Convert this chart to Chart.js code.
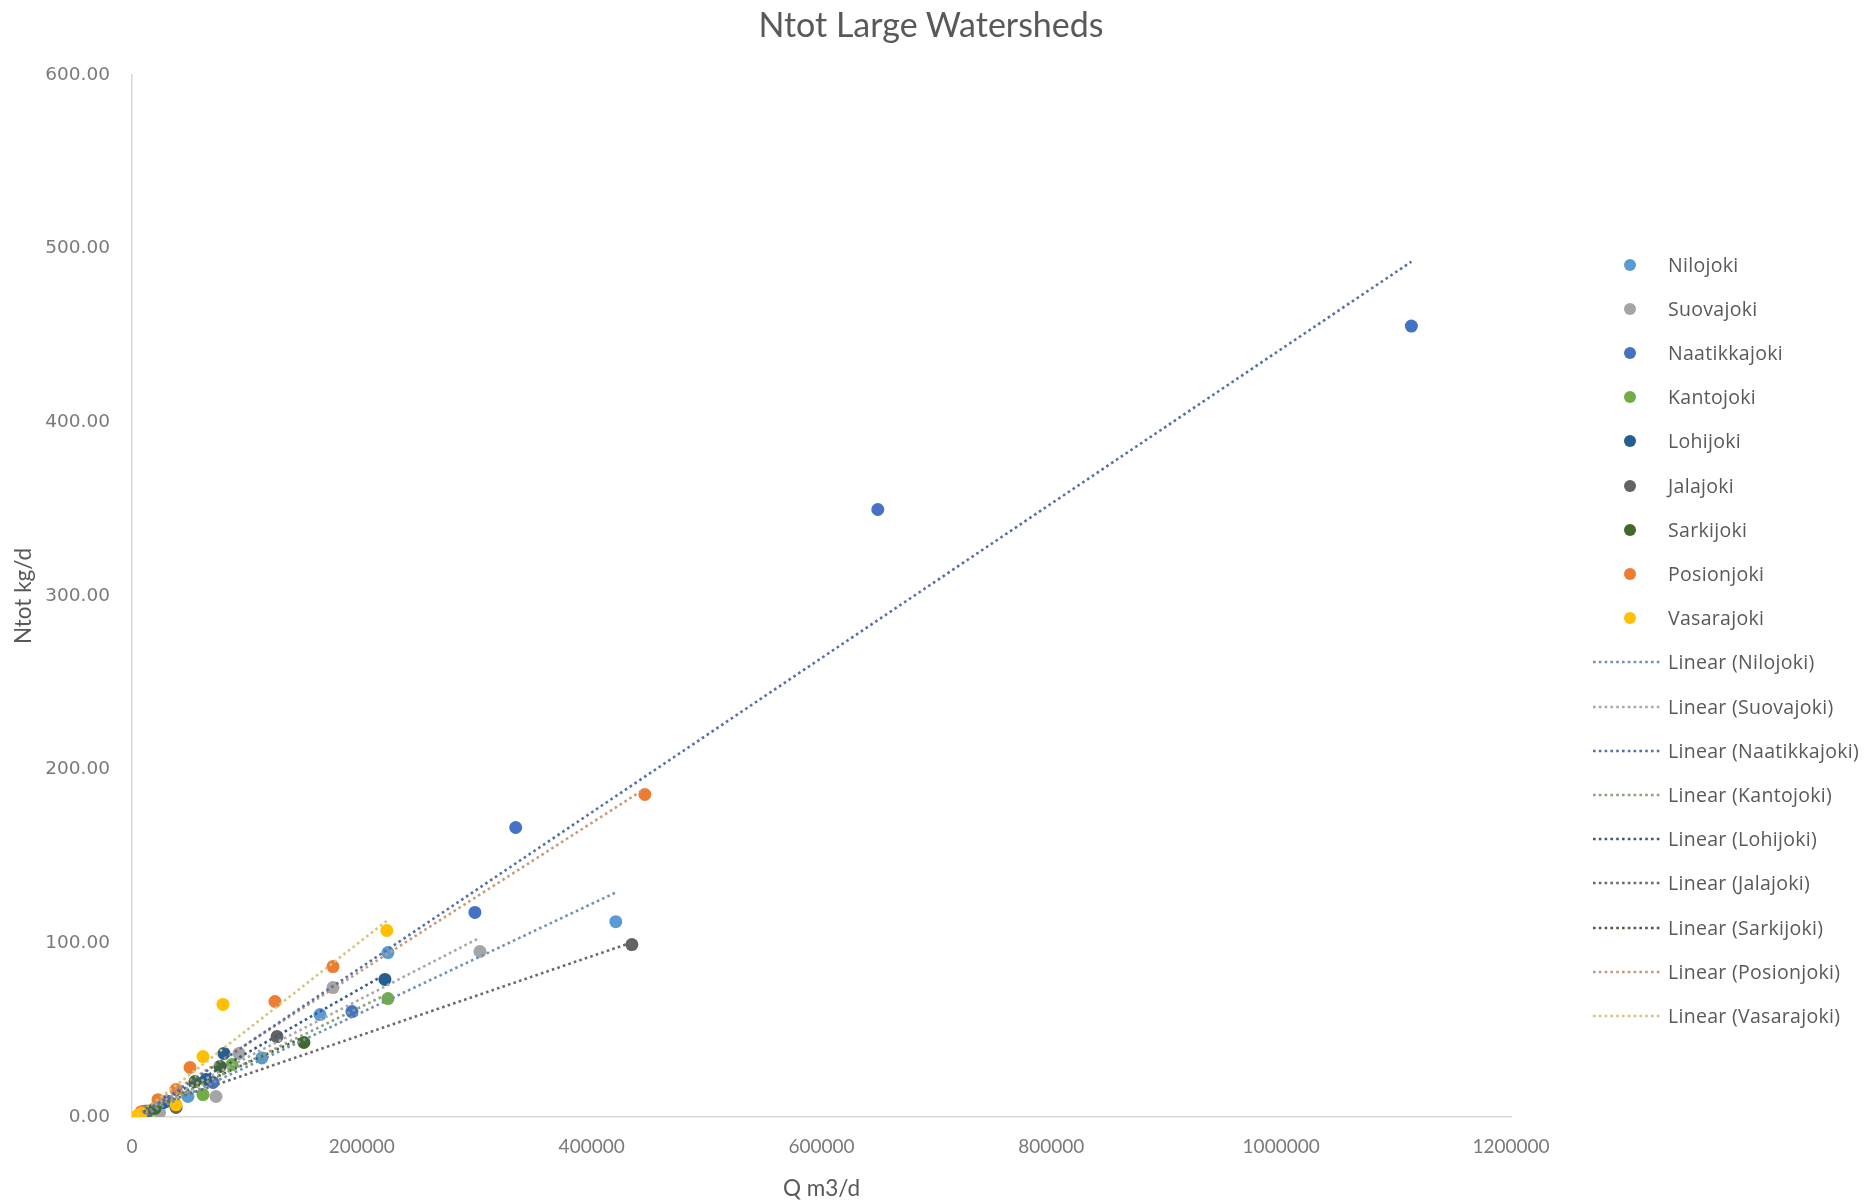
<!DOCTYPE html>
<html>
<head>
<meta charset="utf-8">
<script src="https://cdn.jsdelivr.net/npm/chart.js@4.4.1/dist/chart.umd.min.js"></script>
<style>
  html, body { margin: 0; padding: 0; background: #ffffff; }
  #wrap { position: relative; width: 1868px; height: 1202px; }
  #c { position: absolute; left: 0; top: 0; }
  #legend { position: absolute; left: 0; top: 0; width: 1868px; height: 1202px; pointer-events: none; }
  #title { position: absolute; left: 731px; width: 400px; top: 4px; height: 40px; line-height: 40px; text-align: center;
           font-family: Lato, sans-serif; font-size: 34px; color: #595959; white-space: nowrap; }
  .li { position: absolute; height: 26px; font-family: "Open Sans", sans-serif; font-size: 19.5px; letter-spacing: 0.3px; color: #595959; line-height: 26px; white-space: nowrap; }
</style>
</head>
<body>
<div id="wrap">
  <canvas id="c" width="1868" height="1202"></canvas>
  <div id="title">Ntot Large Watersheds</div>
  <div id="legend"></div>
</div>
<script>
// ---- Data ----
const seriesNames = ["Nilojoki", "Suovajoki", "Naatikkajoki", "Kantojoki", "Lohijoki", "Jalajoki", "Sarkijoki", "Posionjoki", "Vasarajoki"];

const nilojokiQ = [421000, 222700, 163600, 113000, 48700, 27000, 12000];
const nilojokiN = [112.5, 94.7, 59.0, 34.0, 11.8, 8.3, 3.5];

const suovajokiQ = [302800, 174900, 93100, 73100, 24000];
const suovajokiN = [95.3, 74.5, 36.6, 11.8, 2.6];

const naatikkajokiQ = [1113300, 649000, 333900, 298400, 191400, 70500, 30000, 10000];
const naatikkajokiN = [455.4, 349.8, 166.7, 117.8, 60.7, 19.9, 9.0, 3.0];

const kantojokiQ = [222700, 87000, 61800, 15000];
const kantojokiN = [68.2, 30.2, 12.9, 3.5];

const lohijokiQ = [220100, 80000, 64400, 27000, 10000];
const lohijokiN = [79.2, 36.6, 21.6, 8.3, 2.5];

const jalajokiQ = [435000, 126200, 38300, 12000];
const jalajokiN = [99.3, 46.3, 5.5, 2.0];

const sarkijokiQ = [149600, 76600, 54800, 20000];
const sarkijokiN = [42.9, 29.1, 20.4, 5.0];

const posionjokiQ = [446300, 174900, 124400, 50500, 38300, 22600, 8000];
const posionjokiN = [185.7, 86.6, 66.5, 28.5, 15.8, 10.0, 3.0];

const vasarajokiQ = [221800, 79200, 61800, 38300, 8000, 5000];
const vasarajokiN = [107.4, 64.8, 34.8, 7.0, 2.0, 1.0];

// Linear trendline end points (as drawn in the reference)
const nilojokiTrendQ = [12000, 421000],     nilojokiTrendN = [1.5, 129.3];
const suovajokiTrendQ = [20000, 302800],    suovajokiTrendN = [7.0, 103.3];
const naatikkajokiTrendQ = [10000, 1113300], naatikkajokiTrendN = [2.0, 492.5];
const kantojokiTrendQ = [15000, 222700],    kantojokiTrendN = [4.0, 71.0];
const lohijokiTrendQ = [10000, 220100],     lohijokiTrendN = [3.0, 82.0];
const jalajokiTrendQ = [12000, 435000],     jalajokiTrendN = [4.7, 100.5];
const sarkijokiTrendQ = [20000, 149600],    sarkijokiTrendN = [7.0, 46.0];
const posionjokiTrendQ = [8000, 446300],    posionjokiTrendN = [3.0, 189.0];
const vasarajokiTrendQ = [5000, 221800],    vasarajokiTrendN = [1.0, 113.0];

const xTicks = [0, 200000, 400000, 600000, 800000, 1000000, 1200000];
const yTicks = [0, 100, 200, 300, 400, 500, 600];

// ---- Styles ----
const colors = ["#5B9BD5", "#A5A5A5", "#4472C4", "#70AD47", "#255E91", "#636363", "#43682B", "#ED7D31", "#FFC000"];
const trendColors = ["#6f93b8", "#a8a8a8", "#5470a8", "#8aa477", "#3d5a7d", "#6a6a6a", "#4d5e45", "#c99a7a", "#d9c27a"];

const pointSets = [
  [nilojokiQ, nilojokiN], [suovajokiQ, suovajokiN], [naatikkajokiQ, naatikkajokiN],
  [kantojokiQ, kantojokiN], [lohijokiQ, lohijokiN], [jalajokiQ, jalajokiN],
  [sarkijokiQ, sarkijokiN], [posionjokiQ, posionjokiN], [vasarajokiQ, vasarajokiN]
];
const trendSets = [
  [nilojokiTrendQ, nilojokiTrendN], [suovajokiTrendQ, suovajokiTrendN], [naatikkajokiTrendQ, naatikkajokiTrendN],
  [kantojokiTrendQ, kantojokiTrendN], [lohijokiTrendQ, lohijokiTrendN], [jalajokiTrendQ, jalajokiTrendN],
  [sarkijokiTrendQ, sarkijokiTrendN], [posionjokiTrendQ, posionjokiTrendN], [vasarajokiTrendQ, vasarajokiTrendN]
];

const toPts = (qs, ns) => qs.map((q, i) => ({ x: q, y: ns[i] }));

const datasets = [];
pointSets.forEach((s, i) => {
  datasets.push({
    type: 'scatter',
    label: seriesNames[i],
    data: toPts(s[0], s[1]),
    backgroundColor: colors[i],
    borderColor: colors[i],
    pointRadius: 6.5,
    pointBorderWidth: 0,
    order: 20 - i
  });
});
trendSets.forEach((s, i) => {
  datasets.push({
    type: 'scatter',
    label: 'Linear (' + seriesNames[i] + ')',
    data: toPts(s[0], s[1]),
    showLine: true,
    borderColor: trendColors[i],
    borderWidth: 2.6,
    borderDash: [2.6, 3.2],
    pointRadius: 0,
    order: 1
  });
});

const grey = '#595959';
const tickGrey = '#7a7a7a';

new Chart(document.getElementById('c'), {
  type: 'scatter',
  data: { datasets },
  options: {
    responsive: false,
    animation: false,
    events: [],
    layout: { padding: { left: 0, right: 357, top: 75, bottom: 0 } },
    plugins: {
      legend: { display: false },
      tooltip: { enabled: false },
      title: { display: false }
    },
    scales: {
      x: {
        type: 'linear',
        min: xTicks[0], max: xTicks[xTicks.length - 1],
        afterBuildTicks: s => { s.ticks = xTicks.map(v => ({ value: v })); },
        ticks: {
          callback: v => String(v),
          color: tickGrey,
          font: { family: 'Lato', size: 19 },
          padding: 18,
          maxRotation: 0,
          autoSkip: false
        },
        grid: { display: false, drawTicks: false },
        border: { display: true, color: '#d9d9d9', width: 1.5 },
        title: {
          display: true, text: 'Q m3/d', color: grey,
          font: { family: 'Lato', size: 22.5 },
          padding: { top: 0, bottom: 0 }
        },
        afterFit: s => { s.height = 85; }
      },
      y: {
        type: 'linear',
        min: yTicks[0], max: yTicks[yTicks.length - 1],
        afterBuildTicks: s => { s.ticks = yTicks.map(v => ({ value: v })); },
        ticks: {
          callback: v => Number(v).toFixed(2),
          color: tickGrey,
          font: { family: 'DejaVu Sans', size: 18.5 },
          padding: 22,
          autoSkip: false
        },
        grid: { display: false, drawTicks: false },
        border: { display: true, color: '#d9d9d9', width: 1.5 },
        title: {
          display: true, text: 'Ntot kg/d', color: grey,
          font: { family: 'Lato', size: 22.5 },
          padding: { top: 10.5, bottom: 0 }
        },
        afterFit: s => { s.width = 132; }
      }
    }
  }
});

// ---- HTML legend ----
const legend = document.getElementById('legend');
const legendTop = 264.5, legendStep = 44.2, textLeft = 1668;
const legendItems = [];
seriesNames.forEach((n, i) => legendItems.push({ text: n, color: colors[i], kind: 'point' }));
seriesNames.forEach((n, i) => legendItems.push({ text: 'Linear (' + n + ')', color: trendColors[i], kind: 'line' }));
legendItems.forEach((it, k) => {
  const cy = legendTop + k * legendStep;
  const sym = document.createElementNS('http://www.w3.org/2000/svg', 'svg');
  sym.setAttribute('width', '80'); sym.setAttribute('height', '16');
  sym.style.position = 'absolute'; sym.style.left = '1590px'; sym.style.top = (cy - 8) + 'px';
  if (it.kind === 'point') {
    const c = document.createElementNS('http://www.w3.org/2000/svg', 'circle');
    c.setAttribute('cx', '40'); c.setAttribute('cy', '8'); c.setAttribute('r', '6');
    c.setAttribute('fill', it.color);
    sym.appendChild(c);
  } else {
    const l = document.createElementNS('http://www.w3.org/2000/svg', 'line');
    l.setAttribute('x1', '3'); l.setAttribute('x2', '72'); l.setAttribute('y1', '8'); l.setAttribute('y2', '8');
    l.setAttribute('stroke', it.color); l.setAttribute('stroke-width', '2.6');
    l.setAttribute('stroke-dasharray', '2.6 3.2');
    sym.appendChild(l);
  }
  legend.appendChild(sym);
  const t = document.createElement('div');
  t.className = 'li';
  t.style.left = textLeft + 'px';
  t.style.top = (cy - 13) + 'px';
  t.textContent = it.text;
  legend.appendChild(t);
});
</script>
</body>
</html>
